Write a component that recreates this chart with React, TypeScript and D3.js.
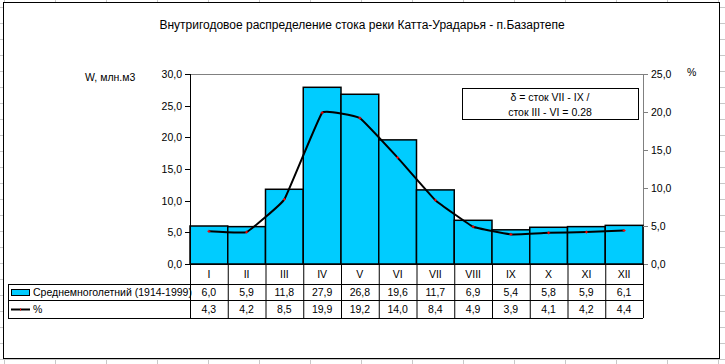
import React from 'react';
import * as d3 from 'd3';

// values
const months = ['I', 'II', 'III', 'IV', 'V', 'VI', 'VII', 'VIII', 'IX', 'X', 'XI', 'XII'];
const volumes = [6.0, 5.9, 11.8, 27.9, 26.8, 19.6, 11.7, 6.9, 5.4, 5.8, 5.9, 6.1];
const percents = [4.3, 4.2, 8.5, 19.9, 19.2, 14.0, 8.4, 4.9, 3.9, 4.1, 4.2, 4.4];
const leftTicks = [0, 5, 10, 15, 20, 25, 30];
const rightTicks = [0, 5, 10, 15, 20, 25];

const title = 'Внутригодовое распределение стока реки Катта-Урадарья - п.Базартепе';
const seriesName = 'Среднемноголетний (1914-1999)';
const lineName = '%';
const leftLabel = 'W, млн.м3';
const noteLines = ['δ = сток VII - IX /', 'сток III - VI = 0.28'];

const W = 725;
const H = 364;
const font = '"Liberation Sans", Arial, sans-serif';
const barFill = '#00CCFF';

const fmt = (v: number) => v.toFixed(1).replace('.', ',');

export default function App() {
  const plot = { left: 190, right: 643, top: 74, bottom: 264 };
  const rowLines = [284, 300, 318];

  const x = d3.scaleBand<string>().domain(months).range([plot.left, plot.right]).padding(0);
  const yL = d3.scaleLinear().domain([0, 30]).range([plot.bottom, plot.top]);
  const yR = d3.scaleLinear().domain([0, 25]).range([plot.bottom, plot.top]);

  const pts: [number, number][] = percents.map((p, i) => [x(months[i])! + x.bandwidth() / 2, yR(p)]);
  const line = d3.line().curve(d3.curveCardinal.tension(0.75))(pts) || '';

  // spreadsheet grid behind the chart object
  const gridX = d3.range(0, 15).map(k => 4 + 51 * k);
  const gridY = d3.range(0, 24).map(k => 7 + 16 * k);

  return (
    <svg width={W} height={H} style={{ position: 'absolute', left: 0, top: 0, fontFamily: font }}>
      <rect x={0} y={0} width={W} height={H} fill="#fff" />
      {gridX.map(gx => <line key={'gx' + gx} x1={gx + 0.5} x2={gx + 0.5} y1={0} y2={H} stroke="#c8c8c8" />)}
      {gridY.map(gy => <line key={'gy' + gy} x1={0} x2={W} y1={gy + 0.5} y2={gy + 0.5} stroke="#c8c8c8" />)}

      {/* chart area */}
      <rect x={3.5} y={2.5} width={716} height={356} fill="#fff" stroke="#000" strokeWidth={1} />

      <text x={362} y={29} textAnchor="middle" fontSize={12}>{title}</text>
      <text x={85} y={81} fontSize={10.5}>{leftLabel}</text>
      <text x={687} y={76} fontSize={10.5}>%</text>

      {/* plot frame */}
      <line x1={plot.left} x2={plot.right} y1={plot.top + 0.5} y2={plot.top + 0.5} stroke="#808080" />
      <line x1={plot.right + 0.5} x2={plot.right + 0.5} y1={plot.top} y2={plot.bottom} stroke="#808080" />

      {/* bars */}
      {volumes.map((v, i) => (
        <rect key={months[i]} x={x(months[i])!} y={yL(v)} width={x.bandwidth()} height={plot.bottom - yL(v)}
          fill={barFill} stroke="#000" strokeWidth={1.5} />
      ))}

      {/* left axis */}
      <line x1={plot.left + 0.5} x2={plot.left + 0.5} y1={plot.top} y2={rowLines[2]} stroke="#000" />
      {leftTicks.map(t => (
        <g key={'l' + t}>
          <line x1={plot.left - 5} x2={plot.left} y1={Math.round(yL(t)) + 0.5} y2={Math.round(yL(t)) + 0.5} stroke="#000" />
          <text x={plot.left - 8} y={yL(t) + 4} textAnchor="end" fontSize={10.5}>{fmt(t)}</text>
        </g>
      ))}

      {/* right axis */}
      {rightTicks.map(t => (
        <g key={'r' + t}>
          <line x1={plot.right} x2={plot.right + 5} y1={Math.round(yR(t)) + 0.5} y2={Math.round(yR(t)) + 0.5} stroke="#808080" />
          <text x={plot.right + 8} y={yR(t) + 4} fontSize={10.5}>{fmt(t)}</text>
        </g>
      ))}

      {/* percent line */}
      <path d={line} fill="none" stroke="#000" strokeWidth={2} />
      {pts.map(([px, py], i) => (
        <g key={'m' + i} stroke="#ff0000" strokeWidth={1}>
          <line x1={px - 1.5} x2={px + 1.5} y1={py} y2={py} />
          <line x1={px} x2={px} y1={py - 1.5} y2={py + 1.5} />
        </g>
      ))}

      {/* note box */}
      <rect x={462.5} y={88.5} width={176} height={31} fill="#fff" stroke="#000" />
      {noteLines.map((t, i) => (
        <text key={t} x={550} y={101 + i * 15} textAnchor="middle" fontSize={10.5}>{t}</text>
      ))}

      {/* data table */}
      <line x1={plot.left} x2={plot.right} y1={plot.bottom + 0.5} y2={plot.bottom + 0.5} stroke="#000" />
      {months.map((m, i) => {
        const bx = x(m)!;
        const cx = bx + x.bandwidth() / 2;
        return (
          <g key={'t' + m}>
            <line x1={bx + x.bandwidth() + 0.5} x2={bx + x.bandwidth() + 0.5} y1={plot.bottom} y2={rowLines[2]} stroke="#000" />
            <text x={cx} y={278} textAnchor="middle" fontSize={10.5}>{m}</text>
            <text x={cx} y={296} textAnchor="middle" fontSize={10.5}>{fmt(volumes[i])}</text>
            <text x={cx} y={313} textAnchor="middle" fontSize={10.5}>{fmt(percents[i])}</text>
          </g>
        );
      })}
      {rowLines.map(ry => (
        <line key={'row' + ry} x1={8} x2={plot.right} y1={ry + 0.5} y2={ry + 0.5} stroke="#000" />
      ))}
      <line x1={8.5} x2={8.5} y1={rowLines[0]} y2={rowLines[2]} stroke="#000" />

      {/* legend keys */}
      <rect x={11.5} y={289.5} width={18} height={6} fill={barFill} stroke="#000" />
      <text x={33} y={296} fontSize={10.5}>{seriesName}</text>
      <line x1={11} x2={30} y1={309.5} y2={309.5} stroke="#000" strokeWidth={2} />
      <line x1={20} x2={21} y1={309.5} y2={309.5} stroke="#ff0000" strokeWidth={2} />
      <text x={33} y={313} fontSize={10.5}>{lineName}</text>
    </svg>
  );
}
